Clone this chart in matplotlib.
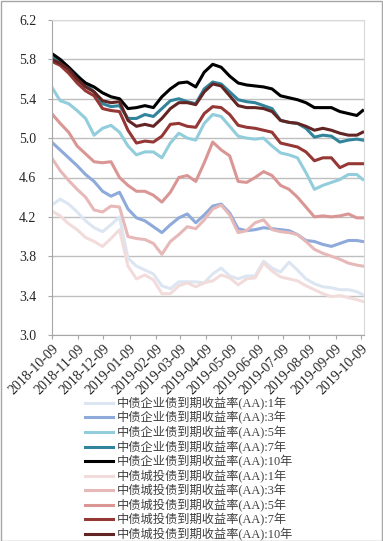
import numpy as np
import pandas as pd
import matplotlib
matplotlib.use("Agg")
import matplotlib.pyplot as plt
import matplotlib.dates as mdates
from matplotlib.patches import Rectangle

# sample dates (every 10 days, plus last trading day)
dates = list(pd.date_range("2018-10-09", "2019-10-04", freq="10D")) + [pd.Timestamp("2019-10-11")]

qy_1y = [4.32, 4.38, 4.33, 4.25, 4.16, 4.09, 4.05, 4.12, 4.20, 3.78, 3.70, 3.66, 3.62, 3.50, 3.47, 3.54, 3.54, 3.54, 3.53,
         3.62, 3.68, 3.60, 3.57, 3.60, 3.60, 3.75, 3.68, 3.64, 3.74, 3.66, 3.57, 3.52, 3.49, 3.48, 3.46, 3.46, 3.44, 3.41]
qy_3y = [4.96, 4.88, 4.80, 4.72, 4.63, 4.56, 4.46, 4.41, 4.45, 4.28, 4.19, 4.16, 4.10, 4.04, 4.12, 4.19, 4.23, 4.14, 4.22,
         4.31, 4.33, 4.24, 4.08, 4.06, 4.07, 4.09, 4.08, 4.07, 4.06, 4.02, 3.96, 3.95, 3.92, 3.90, 3.93, 3.96, 3.96, 3.95]
qy_5y = [5.52, 5.38, 5.35, 5.28, 5.20, 5.03, 5.10, 5.13, 5.06, 4.92, 4.83, 4.86, 4.86, 4.80, 4.95, 5.05, 5.00, 4.98, 5.15,
         5.24, 5.22, 5.12, 5.02, 5.00, 4.99, 5.00, 4.92, 4.85, 4.83, 4.80, 4.65, 4.48, 4.52, 4.55, 4.58, 4.63, 4.63, 4.58]
qy_7y = [5.82, 5.78, 5.72, 5.64, 5.55, 5.47, 5.35, 5.32, 5.33, 5.20, 5.20, 5.24, 5.22, 5.30, 5.38, 5.40, 5.37, 5.35, 5.50,
         5.57, 5.55, 5.47, 5.39, 5.37, 5.36, 5.33, 5.30, 5.18, 5.16, 5.15, 5.10, 5.01, 5.03, 5.02, 4.96, 4.98, 4.99, 4.98]
qy_10y = [5.86, 5.80, 5.72, 5.63, 5.56, 5.52, 5.46, 5.42, 5.40, 5.30, 5.31, 5.33, 5.31, 5.42, 5.50, 5.56, 5.57, 5.52, 5.67,
          5.75, 5.72, 5.63, 5.56, 5.54, 5.53, 5.52, 5.50, 5.43, 5.41, 5.39, 5.36, 5.31, 5.31, 5.31, 5.27, 5.25, 5.23, 5.28]
ct_1y = [4.26, 4.21, 4.13, 4.07, 3.99, 3.95, 3.90, 3.98, 4.07, 3.70, 3.57, 3.61, 3.56, 3.42, 3.42, 3.50, 3.53, 3.49, 3.53,
         3.55, 3.61, 3.58, 3.51, 3.57, 3.58, 3.73, 3.65, 3.59, 3.57, 3.55, 3.50, 3.46, 3.42, 3.39, 3.40, 3.38, 3.36, 3.34]
ct_3y = [4.80, 4.67, 4.57, 4.48, 4.40, 4.27, 4.25, 4.31, 4.30, 4.00, 3.98, 3.97, 3.93, 3.82, 3.95, 4.02, 4.10, 4.08, 4.17,
         4.28, 4.32, 4.22, 4.04, 4.06, 4.14, 4.17, 4.07, 4.05, 4.04, 4.02, 3.95, 3.87, 3.83, 3.80, 3.77, 3.73, 3.71, 3.70]
ct_5y = [5.25, 5.15, 5.06, 4.92, 4.84, 4.76, 4.75, 4.76, 4.60, 4.52, 4.46, 4.46, 4.42, 4.35, 4.45, 4.60, 4.62, 4.56, 4.75,
         4.96, 4.88, 4.82, 4.56, 4.55, 4.60, 4.66, 4.62, 4.52, 4.48, 4.40, 4.30, 4.20, 4.21, 4.20, 4.21, 4.23, 4.19, 4.19]
ct_7y = [5.78, 5.74, 5.66, 5.56, 5.48, 5.43, 5.30, 5.28, 5.27, 5.08, 4.95, 4.97, 4.96, 5.02, 5.14, 5.15, 5.12, 5.11, 5.25,
         5.32, 5.31, 5.24, 5.13, 5.11, 5.10, 5.08, 5.06, 4.95, 4.93, 4.91, 4.86, 4.77, 4.80, 4.80, 4.70, 4.74, 4.74, 4.74]
ct_10y = [5.80, 5.76, 5.70, 5.60, 5.52, 5.47, 5.38, 5.36, 5.37, 5.18, 5.12, 5.14, 5.12, 5.20, 5.30, 5.36, 5.36, 5.34, 5.47,
          5.55, 5.53, 5.43, 5.33, 5.31, 5.31, 5.30, 5.27, 5.18, 5.16, 5.15, 5.12, 5.08, 5.10, 5.08, 5.05, 5.03, 5.03, 5.06]

series = [qy_1y, qy_3y, qy_5y, qy_7y, qy_10y, ct_1y, ct_3y, ct_5y, ct_7y, ct_10y]
labels = ["中债企业债到期收益率(AA):1年", "中债企业债到期收益率(AA):3年", "中债企业债到期收益率(AA):5年",
          "中债企业债到期收益率(AA):7年", "中债企业债到期收益率(AA):10年",
          "中债城投债到期收益率(AA):1年", "中债城投债到期收益率(AA):3年", "中债城投债到期收益率(AA):5年",
          "中债城投债到期收益率(AA):7年", "中债城投债到期收益率(AA):10年"]
colors = ["#dce6f2", "#8eaadb", "#92cddc", "#31849b", "#000000",
          "#f2dcdb", "#e6b9b8", "#d99694", "#953735", "#632523"]

plt.rcParams['font.family'] = ['Liberation Serif', 'Noto Sans CJK SC']

fig = plt.figure(figsize=(3.83, 5.41), dpi=100)
ax = fig.add_axes([51.7 / 383, 1 - 335 / 541, (364 - 51.7) / 383, (335 - 20) / 541])

for s, lab, c in zip(series, labels, colors):
    ax.plot(dates, s, color=c, lw=2.2, label=lab)

ax.set_ylim(3.0, 6.2)
ax.set_yticks(np.arange(3.0, 6.21, 0.4))
ax.yaxis.set_major_formatter(matplotlib.ticker.FormatStrFormatter('%.1f'))
ax.set_xlim(pd.Timestamp("2018-10-09"), pd.Timestamp("2019-10-12 12:00"))
ax.xaxis.set_major_locator(mdates.MonthLocator(bymonthday=9))
ax.xaxis.set_major_formatter(mdates.DateFormatter('%Y-%m-%d'))
for lbl in ax.get_xticklabels():
    lbl.set_rotation(45)
    lbl.set_ha('right')
    lbl.set_rotation_mode('anchor')

ax.grid(axis='y', color='#bfbfbf', lw=1)
ax.set_axisbelow(True)
for side in ['top', 'right']:
    ax.spines[side].set_color('#d9d9d9')
for side in ['left', 'bottom']:
    ax.spines[side].set_color('#a6a6a6')
ax.tick_params(axis='both', colors='#a6a6a6', labelcolor='#262626', labelsize=10, length=3)
ax.tick_params(axis='y', pad=8)
ax.tick_params(axis='x', pad=2)

fig.legend(loc='upper left', bbox_to_anchor=(85 / 383, 1 - 397 / 541), frameon=False,
           fontsize=8.8, handlelength=2.3, handletextpad=0.3, labelspacing=0.12,
           borderaxespad=0, borderpad=0, labelcolor='#404040')

fig.add_artist(Rectangle((0.5 / 383, 0.5 / 541), 1 - 1.5 / 383, 1 - 1.5 / 541, transform=fig.transFigure,
                         fill=False, edgecolor='#a6a6a6', lw=1))

fig.savefig("out.png", dpi=100)
